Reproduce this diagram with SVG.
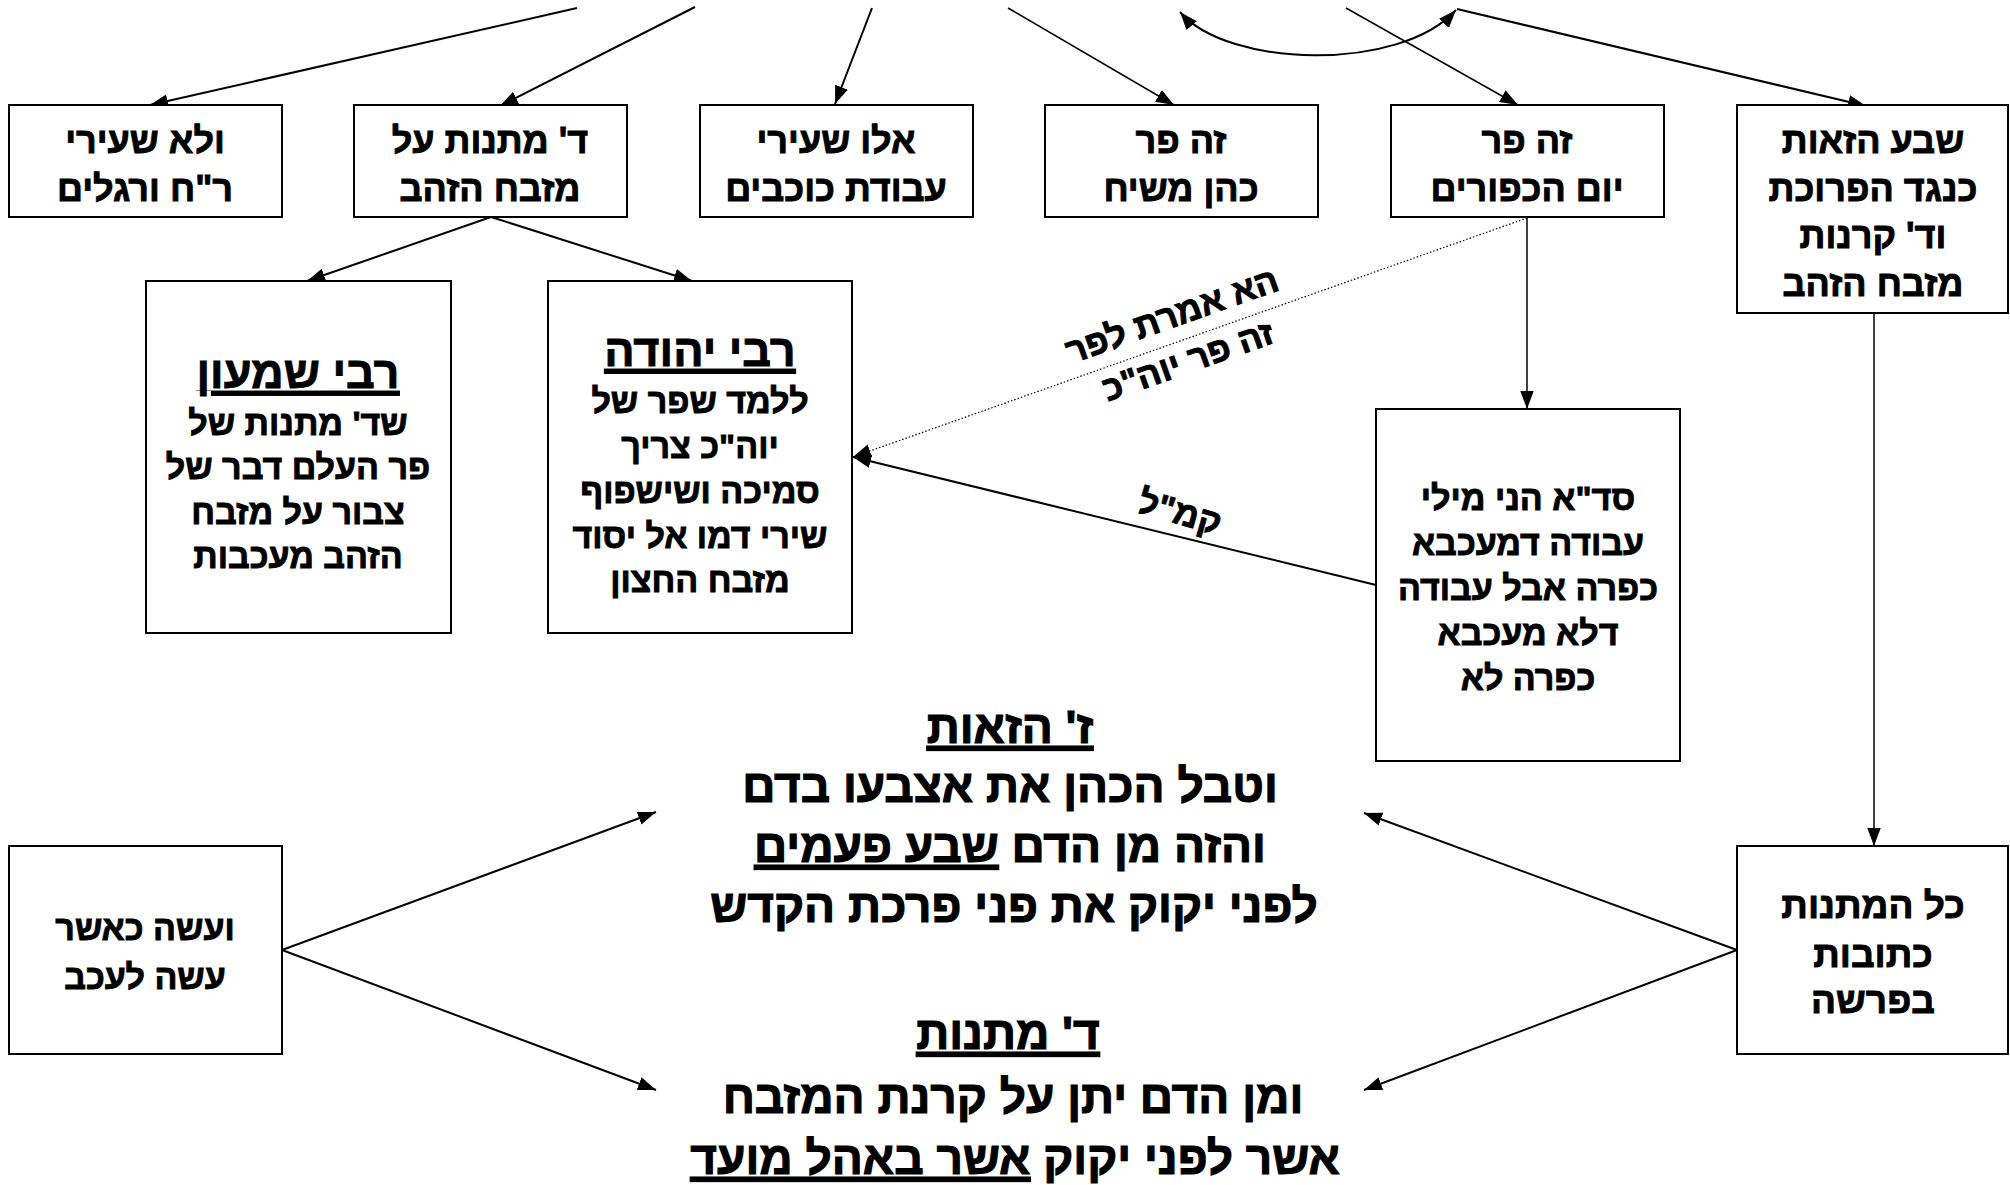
<svg xmlns="http://www.w3.org/2000/svg" width="2010" height="1185" viewBox="0 0 2010 1185">
<defs>
<marker id="arr" markerUnits="userSpaceOnUse" markerWidth="18" markerHeight="14" refX="16" refY="6" orient="auto-start-reverse" viewBox="0 0 16 12">
<path d="M0,0 L16,6 L0,12 z" fill="#000"/>
</marker>
<style>
.box{fill:#fff;stroke:#000;stroke-width:2}
.ln{fill:none;stroke:#000;stroke-width:2}
.thin{fill:none;stroke:#000;stroke-width:1.5}
.dot{fill:none;stroke:#000;stroke-width:1.2;stroke-dasharray:1.5 2}
text{font-family:"Liberation Sans",Arial,"DejaVu Sans",sans-serif;font-weight:bold;fill:#000;stroke:#000;stroke-width:0.9;text-anchor:middle;direction:rtl}
.t36{font-size:36px}
.t34{font-size:34px}
.t37{font-size:37px}
.t45{font-size:45px;text-decoration:underline}
.t46{font-size:46px;stroke-width:1.1}
.t35{font-size:35px}
.u{text-decoration:underline}
</style>
</defs>
<rect width="2010" height="1185" fill="#fff"/>
<g id="connectors">
<line class="ln" x1="577" y1="8" x2="150" y2="105" marker-end="url(#arr)"/>
<line class="ln" x1="695" y1="7" x2="500" y2="106" marker-end="url(#arr)"/>
<line class="ln" x1="872" y1="8" x2="835" y2="104" marker-end="url(#arr)"/>
<line class="thin" x1="1008" y1="8" x2="1174" y2="105" marker-end="url(#arr)"/>
<line class="thin" x1="1346" y1="8" x2="1518" y2="105" marker-end="url(#arr)"/>
<line class="ln" x1="1457" y1="9" x2="1866" y2="106" marker-end="url(#arr)"/>
<path class="ln" d="M1180,12 C1228,68 1400,72 1456,10" marker-start="url(#arr)" marker-end="url(#arr)"/>
<line class="ln" x1="491" y1="217" x2="307" y2="281" marker-end="url(#arr)"/>
<line class="ln" x1="491" y1="217" x2="692" y2="281" marker-end="url(#arr)"/>
<line class="thin" x1="1527" y1="218" x2="1527" y2="409" marker-end="url(#arr)"/>
<line class="dot" x1="1527" y1="218" x2="853" y2="457" marker-end="url(#arr)"/>
<line class="ln" x1="1376" y1="585" x2="853" y2="457" marker-end="url(#arr)"/>
<line class="thin" x1="1874" y1="313" x2="1874" y2="846" marker-end="url(#arr)"/>
<line class="ln" x1="282" y1="950" x2="656" y2="812" marker-end="url(#arr)"/>
<line class="ln" x1="282" y1="950" x2="656" y2="1090" marker-end="url(#arr)"/>
<line class="ln" x1="1737" y1="950" x2="1364" y2="813" marker-end="url(#arr)"/>
<line class="ln" x1="1737" y1="950" x2="1364" y2="1090" marker-end="url(#arr)"/>
<g transform="translate(1180,338) rotate(-19.5)">
<text class="t35" x="0" y="-12">הא אמרת לפר</text>
<text class="t35" x="0" y="36">זה פר יוה"כ</text>
</g>
<g transform="translate(1180,512) rotate(16)">
<text class="t35" x="0" y="12">קמ"ל</text>
</g>
</g>
<g id="n1"><rect class="box" x="9" y="105" width="273" height="112"/>
<text class="t36" x="145" y="153">ולא שעירי</text><text class="t36" x="145" y="201">ר"ח ורגלים</text></g>
<g id="n2"><rect class="box" x="354" y="105" width="273" height="112"/>
<text class="t36" x="490" y="153">ד' מתנות על</text><text class="t36" x="490" y="201">מזבח הזהב</text></g>
<g id="n3"><rect class="box" x="700" y="105" width="273" height="112"/>
<text class="t36" x="836" y="153">אלו שעירי</text><text class="t36" x="836" y="201">עבודת כוכבים</text></g>
<g id="n4"><rect class="box" x="1045" y="105" width="273" height="112"/>
<text class="t36" x="1181" y="153">זה פר</text><text class="t36" x="1181" y="201">כהן משיח</text></g>
<g id="n5"><rect class="box" x="1391" y="105" width="273" height="112"/>
<text class="t36" x="1527" y="153">זה פר</text><text class="t36" x="1527" y="201">יום הכפורים</text></g>
<g id="n6"><rect class="box" x="1737" y="105" width="271" height="208"/>
<text class="t36" x="1873" y="153">שבע הזאות</text><text class="t36" x="1873" y="201">כנגד הפרוכת</text>
<text class="t36" x="1873" y="248">וד' קרנות</text><text class="t36" x="1873" y="296">מזבח הזהב</text></g>
<g id="n7"><rect class="box" x="146" y="281" width="305" height="352"/>
<text class="t45" x="298" y="388">רבי שמעון</text>
<text class="t34" x="298" y="435">שד' מתנות של</text>
<text class="t34" x="298" y="479">פר העלם דבר של</text>
<text class="t34" x="298" y="524">צבור על מזבח</text>
<text class="t34" x="298" y="568">הזהב מעכבות</text></g>
<g id="n8"><rect class="box" x="548" y="281" width="304" height="352"/>
<text class="t45" x="700" y="366">רבי יהודה</text>
<text class="t34" x="700" y="413">ללמד שפר של</text>
<text class="t34" x="700" y="458">יוה"כ צריך</text>
<text class="t34" x="700" y="503">סמיכה ושישפוף</text>
<text class="t34" x="700" y="548">שירי דמו אל יסוד</text>
<text class="t34" x="700" y="592">מזבח החצון</text></g>
<g id="n9"><rect class="box" x="1376" y="409" width="304" height="352"/>
<text class="t34" x="1528" y="510">סד"א הני מילי</text>
<text class="t34" x="1528" y="555">עבודה דמעכבא</text>
<text class="t34" x="1528" y="600">כפרה אבל עבודה</text>
<text class="t34" x="1528" y="645">דלא מעכבא</text>
<text class="t34" x="1528" y="690">כפרה לא</text></g>
<g id="n10"><rect class="box" x="9" y="846" width="273" height="208"/>
<text class="t34" x="145" y="940">ועשה כאשר</text><text class="t34" x="145" y="989">עשה לעכב</text></g>
<g id="n11"><rect class="box" x="1737" y="846" width="271" height="208"/>
<text class="t37" x="1873" y="918">כל המתנות</text><text class="t37" x="1873" y="967">כתובות</text><text class="t37" x="1873" y="1013">בפרשה</text></g>
<g id="n12">
<text class="t46 u" x="1010" y="743">ז' הזאות</text>
<text class="t46" x="1010" y="802">וטבל הכהן את אצבעו בדם</text>
<text class="t46" x="1010" y="862">והזה מן הדם <tspan class="u">שבע פעמים</tspan></text>
<text class="t46" x="1014" y="922">לפני יקוק את פני פרכת הקדש</text>
</g>
<g id="n13">
<text class="t46 u" x="1008" y="1049">ד' מתנות</text>
<text class="t46" x="1013" y="1113">ומן הדם יתן על קרנת המזבח</text>
<text class="t46" x="1015" y="1174">אשר לפני יקוק <tspan class="u">אשר באהל מועד</tspan></text>
</g>
</svg>
